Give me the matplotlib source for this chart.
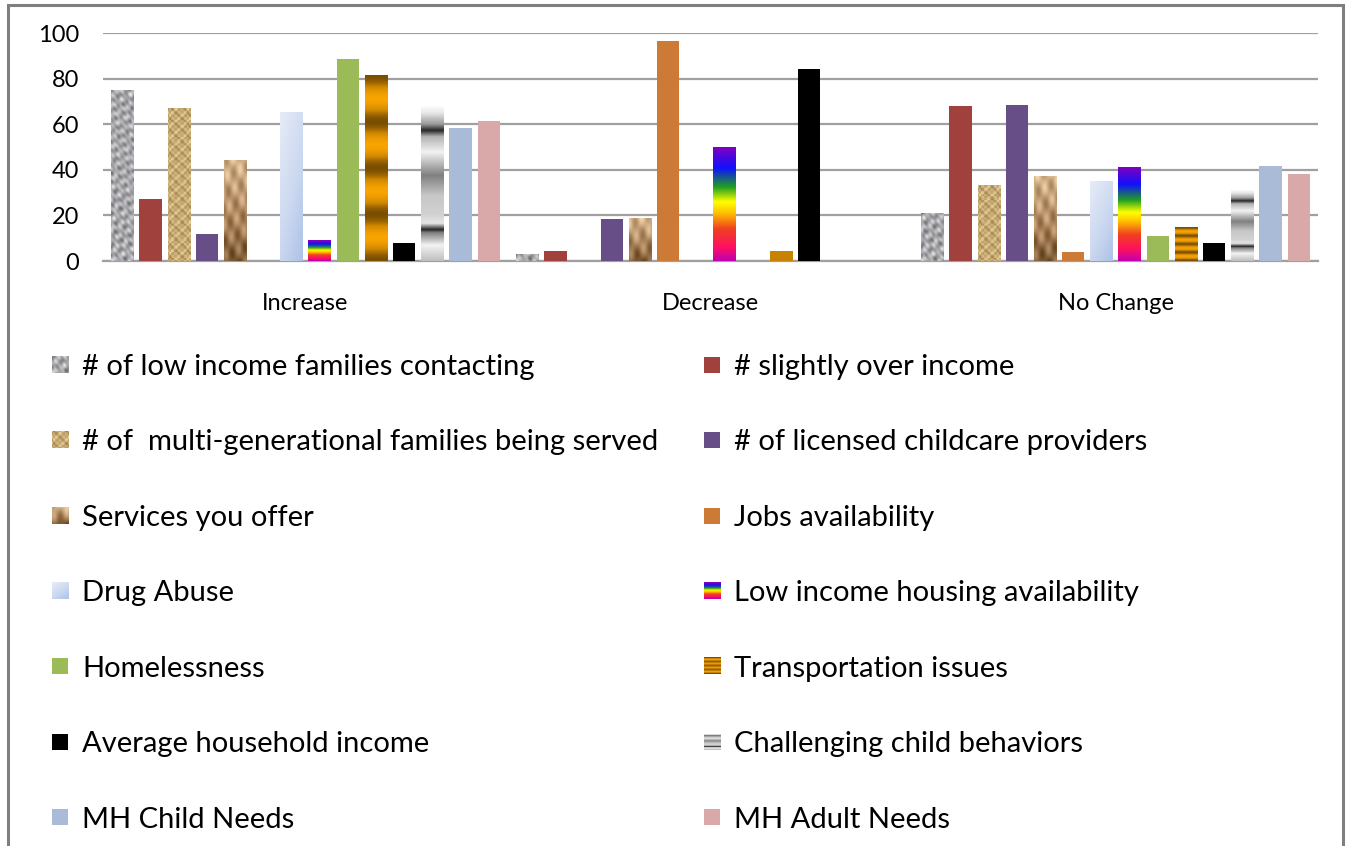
import numpy as np
import matplotlib
matplotlib.use("Agg")
import matplotlib.pyplot as plt
from matplotlib.patches import Rectangle
from matplotlib.legend_handler import HandlerBase
from matplotlib.image import BboxImage
from matplotlib.transforms import Bbox, TransformedBbox

plt.rcParams['font.family'] = ['Lato', 'DejaVu Sans']

categories = ["Increase", "Decrease", "No Change"]
series_names = [
    "# of low income families contacting",
    "# slightly over income",
    "# of  multi-generational families being served",
    "# of licensed childcare providers",
    "Services you offer",
    "Jobs availability",
    "Drug Abuse",
    "Low income housing availability",
    "Homelessness",
    "Transportation issues",
    "Average household income",
    "Challenging child behaviors",
    "MH Child Needs",
    "MH Adult Needs",
]
low_income_contacting = [75, 3, 21]
slightly_over_income = [27, 4.5, 68]
multi_generational = [67, 0, 33]
licensed_providers = [12, 18.5, 68.5]
services_offer = [44, 18.5, 37]
jobs_availability = [0, 96.3, 4]
drug_abuse = [65, 0, 35]
low_income_housing = [9, 50, 41]
homelessness = [88.5, 0, 11]
transportation = [81.5, 4, 14.5]
avg_household_income = [8, 84, 8]
challenging_behaviors = [68, 0, 31.5]
mh_child = [58.5, 0, 41.5]
mh_adult = [61.5, 0, 38]

values = [low_income_contacting, slightly_over_income, multi_generational,
          licensed_providers, services_offer, jobs_availability, drug_abuse,
          low_income_housing, homelessness, transportation,
          avg_household_income, challenging_behaviors, mh_child, mh_adult]

y_ticks = [0, 20, 40, 60, 80, 100]

# ---------- fill styles ----------
def hexrgb(h):
    h = h.lstrip('#')
    return np.array([int(h[i:i + 2], 16) / 255 for i in (0, 2, 4)])


def ramp(stops, t):
    pos = np.array([s[0] for s in stops])
    cols = np.array([hexrgb(s[1]) for s in stops])
    out = np.zeros(t.shape + (3,))
    for c in range(3):
        out[..., c] = np.interp(t, pos, cols[:, c])
    return out


def tex_granite(h, w):
    y, x = np.mgrid[0:h, 0:w].astype(float)
    v = (0.66 + 0.10 * np.sin(x * 0.53 + y * 0.31) * np.cos(y * 0.47 - x * 0.29)
         + 0.08 * np.sin(x * 0.37 - y * 0.61 + 1.3)
         + 0.05 * np.cos(x * 1.13 + y * 0.83)
         + 0.04 * np.sin(y * 0.19 + np.cos(x * 0.7) * 2))
    v = np.clip(v, 0, 1)
    base = np.stack([v, v, v * 1.02], axis=-1)
    return np.clip(base, 0, 1)


def tex_woven(h, w):
    y, x = np.mgrid[0:h, 0:w].astype(float)
    light = hexrgb('#ecd49a')
    dark = hexrgb('#8a6a38')
    a = (np.sin(x * 1.1) > 0.2) ^ (np.sin(y * 1.1) > 0.2)
    b = 0.5 + 0.5 * np.sin(x * 0.55 + 0.3) * np.sin(y * 0.55)
    m = np.clip(0.35 * a + 0.5 * b, 0, 1)[..., None]
    return light * (1 - m) + dark * m * 0.9 + light * m * 0.1


def tex_paper(h, w):
    y, x = np.mgrid[0:h, 0:w].astype(float)
    t = y / max(h - 1, 1)
    base = ramp([(0, '#7a5a34'), (0.35, '#a88058'), (1, '#d4b48c')], t)
    n = (0.08 * np.sin(x * 0.4 + y * 0.23) + 0.06 * np.cos(y * 0.17 - x * 0.6))
    return np.clip(base + n[..., None], 0, 1)


def tex_drug(h, w):
    y, x = np.mgrid[0:h, 0:w].astype(float)
    t = 0.6 * (1 - y / max(h - 1, 1)) + 0.4 * (x / max(w - 1, 1))
    t = np.clip(t * 0.9, 0, 1)
    return ramp([(0, '#a6bde6'), (0.5, '#cbd8f0'), (1, '#e6ecf7')], 1 - t)


def tex_rainbow(h, w):
    y = np.linspace(0, 1, h)[:, None] * np.ones((1, w))
    return ramp([(0, '#c000b0'), (0.12, '#ff1060'), (0.28, '#f04020'),
                 (0.42, '#ffc000'), (0.52, '#ffff00'), (0.65, '#20a020'),
                 (0.82, '#1010ff'), (1.0, '#8000c0')], y)


def tex_transport(h, w):
    y = np.linspace(0, 1, h)[:, None] * np.ones((1, w))
    t = 0.5 + 0.5 * np.cos(y * 2 * np.pi * 4)
    if h < 15:
        t = np.full_like(t, 0.55)
    return ramp([(0, '#f8a400'), (0.5, '#d08800'), (1, '#7a4e00')], t)


def tex_challenge(h, w):
    y = np.linspace(0, 1, h)[:, None] * np.ones((1, w))
    g = np.interp(y, [0, 0.1, 0.18, 0.2, 0.24, 0.3, 0.42, 0.55, 0.7, 0.8, 0.84,
                      0.88, 0.95, 1.0],
                  [0.75, 0.95, 0.5, 0.15, 0.9, 0.82, 0.78, 0.5, 0.95, 0.7,
                   0.15, 0.6, 0.9, 1.0])
    return np.stack([g, g, g], axis=-1)


styles = [
    ('img', tex_granite, '#a8a8a8'),
    ('solid', None, '#a0413e'),
    ('img', tex_woven, '#d6b878'),
    ('solid', None, '#684e87'),
    ('img', tex_paper, '#b89068'),
    ('solid', None, '#cd7a37'),
    ('img', tex_drug, '#c6d4ee'),
    ('img', tex_rainbow, '#ff0000'),
    ('solid', None, '#9bbb59'),
    ('img', tex_transport, '#e09000'),
    ('solid', None, '#000000'),
    ('img', tex_challenge, '#a0a0a0'),
    ('solid', None, '#aabbd8'),
    ('solid', None, '#d9a8a8'),
]

# ---------- figure ----------
W, H = 1351, 846
fig = plt.figure(figsize=(W / 100, H / 100), dpi=100)
fig.patch.set_facecolor('white')
ax = fig.add_axes([103 / W, 1 - 261 / H, (1318 - 103) / W, (261 - 33) / H])

n = len(values)
step = 0.0696
bw = 0.055
x = np.arange(len(categories))
for i, (vals, (kind, fn, col)) in enumerate(zip(values, styles)):
    off = (i - (n - 1) / 2) * step
    bars = ax.bar(x + off, vals, bw, color=col if kind == 'solid' else 'none',
                  edgecolor='none', zorder=3, label=series_names[i])
    if kind == 'img':
        for p in bars:
            hgt = p.get_height()
            if hgt <= 0:
                continue
            hp = max(int(hgt * 2.28), 4)
            img = fn(hp, 22)
            ax.imshow(img, extent=[p.get_x(), p.get_x() + p.get_width(), 0, hgt],
                      aspect='auto', origin='lower', zorder=3,
                      interpolation='bilinear')

ax.set_xlim(-0.5, len(categories) - 0.5)
ax.set_ylim(0, 100)
ax.set_yticks(y_ticks)
ax.set_xticks(x)
ax.set_xticklabels(categories)
ax.tick_params(axis='both', length=0, labelsize=17, colors='#000000')
ax.tick_params(axis='x', pad=23)
ax.tick_params(axis='y', pad=17)
ax.yaxis.grid(True, color='#a0a0a0', linewidth=1.6, zorder=0)
ax.set_axisbelow(True)
for s in ['top', 'right', 'left']:
    ax.spines[s].set_visible(False)
ax.spines['bottom'].set_color('#a0a0a0')
ax.spines['bottom'].set_linewidth(1.6)


# ---------- legend ----------
class ImgHandler(HandlerBase):
    def __init__(self, kind, fn, col):
        super().__init__()
        self.kind, self.fn, self.col = kind, fn, col

    def create_artists(self, legend, orig_handle, xdescent, ydescent, width,
                       height, fontsize, trans):
        s = min(width, height * 1.0)
        x0 = -xdescent + (width - s) / 2
        y0 = -ydescent + (height - s) / 2
        if self.kind == 'solid':
            r = Rectangle((x0, y0), s, s, facecolor=self.col, edgecolor='none',
                          transform=trans)
            return [r]
        img = self.fn(16, 16)
        bb = TransformedBbox(Bbox.from_bounds(x0, y0, s, s), trans)
        im = BboxImage(bb, interpolation='bilinear', origin='lower')
        im.set_data(img)
        return [im]


handles = [Rectangle((0, 0), 1, 1) for _ in series_names]
handler_map = {h: ImgHandler(*st) for h, st in zip(handles, styles)}
order = list(range(0, n, 2)) + list(range(1, n, 2))
leg = fig.legend([handles[i] for i in order], [series_names[i] for i in order],
                 handler_map=handler_map, ncol=2, loc='upper left',
                 bbox_to_anchor=(52 / W, 1 - 354 / H), frameon=False,
                 fontsize=21, handlelength=0.55, handleheight=0.55,
                 handletextpad=0.48, labelspacing=1.695, columnspacing=1.55,
                 borderpad=0, borderaxespad=0)

# outer frame
fig.patches.append(Rectangle((8 / W, -0.02), (1343 - 8) / W, 1.02 - 5 / H,
                             transform=fig.transFigure, fill=False,
                             edgecolor='#7f7f7f', linewidth=2.2))

fig.savefig('out.png', dpi=100, facecolor='white')
